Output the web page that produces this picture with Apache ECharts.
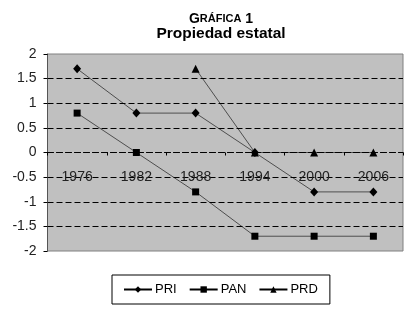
<!DOCTYPE html>
<html>
<head>
<meta charset="utf-8">
<script src="https://cdn.jsdelivr.net/npm/echarts@6/dist/echarts.min.js"></script>
<style>html,body{margin:0;padding:0;background:#fff;}#c{width:414px;height:316px;}</style>
</head>
<body>
<div id="c"></div>
<script>
const categories = ['1976', '1982', '1988', '1994', '2000', '2006'];
const PRI = [1.7, 0.8, 0.8, 0, -0.8, -0.8];
const PAN = [0.8, 0, -0.8, -1.7, -1.7, -1.7];
const PRD = [null, null, 1.7, 0, 0, 0];

const FONT = "'Liberation Sans', Arial, Helvetica, sans-serif";
const chart = echarts.init(document.getElementById('c'), null, {renderer: 'canvas'});

const GRID_TOP = 54, GRID_BOTTOM = 65, CHART_H = 316;
const plotH = CHART_H - GRID_TOP - GRID_BOTTOM;

function lineSeries(name, data, symbol, size) {
  return {
    name: name, type: 'line', data: data,
    symbol: symbol, symbolSize: size, showSymbol: true,
    connectNulls: false,
    lineStyle: {color: '#000', width: 0.6},
    itemStyle: {color: '#000', borderWidth: 0},
    emphasis: {disabled: true},
    animation: false
  };
}

chart.setOption({
  animation: false,
  textStyle: {fontFamily: FONT},
  title: [
    {
      text: '{a|G}{b|RÁFICA}{a| 1}',
      left: 216, top: 7, textAlign: 'center',
      textStyle: {
        rich: {
          a: {fontSize: 14, fontWeight: 'bold', fontFamily: FONT, color: '#000'},
          b: {fontSize: 11, fontWeight: 'bold', fontFamily: FONT, color: '#000'}
        }
      }
    },
    {
      text: 'Propiedad estatal',
      left: 216, top: 21, textAlign: 'center',
      textStyle: {fontSize: 15.5, fontWeight: 'bold', fontFamily: FONT, color: '#000'}
    }
  ],
  grid: {
    left: 47.5, right: 11, top: GRID_TOP, bottom: GRID_BOTTOM,
    show: true, backgroundColor: '#c0c0c0', borderColor: '#808080', borderWidth: 1,
    containLabel: false
  },
  legend: {
    left: 112, top: 275,
    padding: [8, 12, 8, 11],
    itemGap: 12, itemWidth: 28, itemHeight: 8,
    borderColor: '#000', borderWidth: 1, backgroundColor: '#fff',
    textStyle: {fontSize: 13, fontFamily: FONT, color: '#000', padding: [0, 0, 0, -2]},
    data: ['PRI', 'PAN', 'PRD']
  },
  xAxis: {
    type: 'category', data: categories, boundaryGap: true,
    position: 'bottom', offset: -plotH / 2,
    axisLine: {show: true, onZero: false, lineStyle: {color: '#000', width: 1, type: [6, 3]}},
    axisTick: {show: true, length: 3, inside: false, lineStyle: {color: '#000'}},
    axisLabel: {fontSize: 14, color: '#222', margin: 18, fontFamily: FONT},
    splitLine: {show: false}
  },
  yAxis: {
    type: 'value', min: -2, max: 2, interval: 0.5,
    axisLine: {show: true, lineStyle: {color: '#555'}},
    axisTick: {show: true, length: 4, lineStyle: {color: '#000'}},
    axisLabel: {fontSize: 14, color: '#222', margin: 11, fontFamily: FONT},
    splitLine: {show: true, showMinLine: false, showMaxLine: false, lineStyle: {color: '#000', width: 1, type: [6, 3]}}
  },
  series: [
    lineSeries('PRI', PRI, 'diamond', [8, 9]),
    lineSeries('PAN', PAN, 'rect', 7),
    lineSeries('PRD', PRD, 'triangle', 8)
  ]
});
</script>
</body>
</html>
